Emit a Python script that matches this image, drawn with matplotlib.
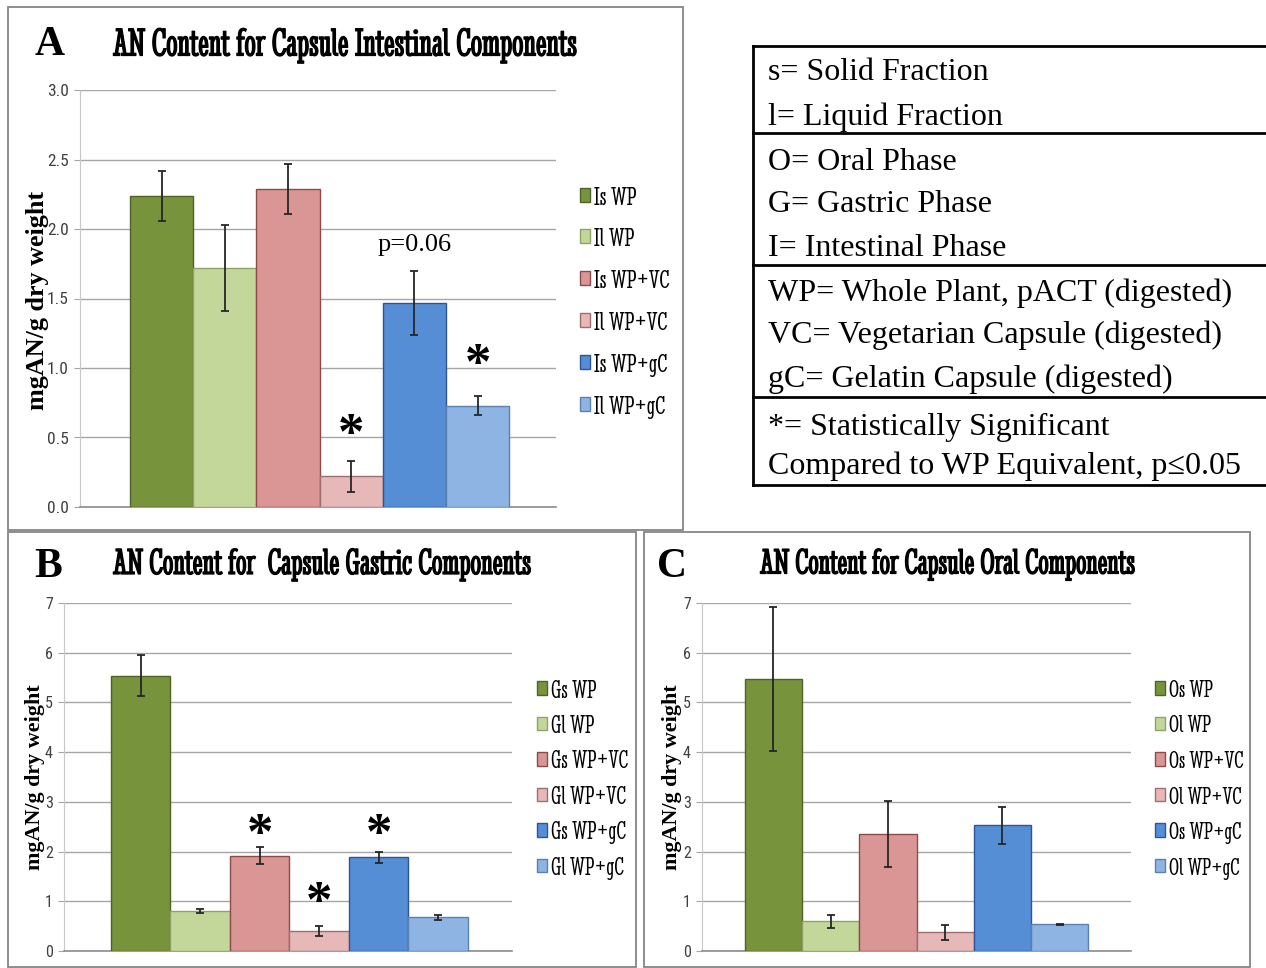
import matplotlib
matplotlib.use("Agg")
import matplotlib.pyplot as plt
import matplotlib.patheffects as pe
from matplotlib.lines import Line2D
from matplotlib.patches import Rectangle
import numpy as np

W, H = 1266, 968

# ---- data (mg AN / g dry weight) ----
labels_A = ["Is WP", "Il WP", "Is WP+VC", "Il WP+VC", "Is WP+gC", "Il WP+gC"]
vals_A = [2.24, 1.72, 2.29, 0.22, 1.47, 0.73]
err_A = [0.18, 0.31, 0.18, 0.11, 0.23, 0.07]

labels_B = ["Gs WP", "Gl WP", "Gs WP+VC", "Gl WP+VC", "Gs WP+gC", "Gl WP+gC"]
vals_B = [5.54, 0.80, 1.92, 0.40, 1.89, 0.68]
err_B = [0.42, 0.04, 0.18, 0.10, 0.11, 0.05]

labels_C = ["Os WP", "Ol WP", "Os WP+VC", "Ol WP+VC", "Os WP+gC", "Ol WP+gC"]
vals_C = [5.47, 0.60, 2.35, 0.38, 2.53, 0.54]
err_C = [1.45, 0.13, 0.66, 0.15, 0.37, 0.01]

# significance marks: (bar index, y of star centre)
stars_A = [(3, 0.61), (5, 1.115)]
stars_B = [(2, 2.58), (3, 1.23), (4, 2.58)]

key_lines = [
    ["s= Solid Fraction", "l= Liquid Fraction"],
    ["O= Oral Phase", "G= Gastric Phase", "I= Intestinal Phase"],
    ["WP= Whole Plant, pACT (digested)", "VC= Vegetarian Capsule (digested)",
     "gC= Gelatin Capsule (digested)"],
    ["*= Statistically Significant", "Compared to WP Equivalent, p\u22640.05"],
]

bar_colors = ["#77933C", "#C4D79B", "#D99694", "#E6B9B8", "#558ED5", "#8EB4E3"]
edge_colors = ["#4F6228", "#8FA268", "#8C4A48", "#9E6E6D", "#2F5597", "#5B80B2"]

SERIF = "Liberation Serif"
NARROW = "Stint Ultra Condensed"
TICKF = "Roboto Condensed"
BOLDFX = [pe.withStroke(linewidth=0.9, foreground="black")]

fig = plt.figure(figsize=(W / 100, H / 100), dpi=100)
rend = fig.canvas.get_renderer()


def rect(x0, y0, x1, y1):
    return [x0 / W, 1 - y1 / H, (x1 - x0) / W, (y1 - y0) / H]


def fx(x):
    return x / W


def fy(y):
    return 1 - y / H


def fit(t, target, vertical=False):
    bb = t.get_window_extent(renderer=rend)
    size = bb.height if vertical else bb.width
    t.set_fontsize(t.get_fontsize() * target / size)


def measure(s, family, fs):
    t = fig.text(0, 0, s, family=family, fontsize=fs)
    bb = t.get_window_extent(renderer=rend)
    t.remove()
    return bb.width, bb.height


def panel(box, vals, errs, labels, ymax, step, fmt, tick_fs, leg_x, leg_y0, pitch, sample_w):
    ax = fig.add_axes(rect(*box))
    x = np.arange(len(vals))
    bars = ax.bar(x, vals, width=1.0, color=bar_colors, edgecolor=edge_colors,
                  linewidth=1.0, zorder=3)
    ax.errorbar(x, vals, yerr=errs, fmt="none", ecolor="#262626", elinewidth=1.3,
                capsize=3, capthick=1.3, zorder=4)
    ax.set_xlim(-1.29, 6.24)
    ax.set_ylim(0, ymax)
    ax.set_yticks(np.arange(0, ymax + step / 2, step))
    ax.yaxis.set_major_formatter(plt.FormatStrFormatter(fmt))
    ax.set_xticks([])
    ax.yaxis.grid(True, color="#A6A6A6", lw=1.0)
    ax.set_axisbelow(True)
    for s in ("top", "right"):
        ax.spines[s].set_visible(False)
    ax.spines["left"].set_color("#C8C8C8")
    ax.spines["bottom"].set_color("#8C8C8C")
    ax.spines["bottom"].set_linewidth(1.2)
    ax.tick_params(axis="y", length=4, color="#A6A6A6", pad=4,
                   labelsize=tick_fs, labelcolor="#404040")
    for lb in ax.get_yticklabels():
        lb.set_family(TICKF)

    # legend: size the narrow serif so a sample label has the measured width
    w10, _ = measure(labels[2], NARROW, 10)
    fs = 10 * sample_w / w10
    _, h = measure(labels[2], NARROW, fs)
    fs_px = fs * 100 / 72
    ls = (pitch - h) / fs_px
    ax.legend(bars.patches, labels, loc="upper left",
              bbox_to_anchor=(fx(leg_x), fy(leg_y0 - h / 2)), bbox_transform=fig.transFigure,
              frameon=False, borderpad=0, borderaxespad=0, handlelength=10 / fs_px,
              handleheight=11 / fs_px, handletextpad=0.15, labelspacing=ls,
              prop={"family": NARROW, "size": fs})
    return ax


def star(ax, xi, y, fs=38):
    ax.annotate("*", (xi, y), xytext=(0, -0.26 * fs), textcoords="offset points",
                ha="center", va="center", fontsize=fs, fontweight="bold",
                family=SERIF, zorder=5)


# panel frames
for x0, y0, x1, y1 in [(8, 7, 683, 530), (8, 532, 636, 967), (644, 532, 1250, 967)]:
    fig.add_artist(Rectangle((fx(x0), fy(y1)), (x1 - x0) / W, (y1 - y0) / H,
                             transform=fig.transFigure, fill=False, ec="#858585", lw=1.3))

axA = panel((80, 90, 556, 507), vals_A, err_A, labels_A, 3.0, 0.5, "%.1f", 12.5,
            580, 198, 41.8, 75)
axB = panel((64, 603, 512, 951), vals_B, err_B, labels_B, 7, 1, "%d", 11.5,
            537, 691, 35.5, 76)
axC = panel((702, 603, 1131, 951), vals_C, err_C, labels_C, 7, 1, "%d", 11.5,
            1155, 691, 35.5, 74)
axC.set_xlim(-1.25, 6.25)

for xi, y in stars_A:
    star(axA, xi, y)
for xi, y in stars_B:
    star(axB, xi, y)
axA.text(4, 1.885, "p=0.06", ha="center", va="center", fontsize=19, family=SERIF)

# titles, panel letters, y labels
titles = [
    ("A", (50, 45), "AN Content for Capsule Intestinal Components", (113, 46), 465),
    ("B", (48, 567), "AN Content for  Capsule Gastric Components", (113, 565), 419),
    ("C", (672, 567), "AN Content for Capsule Oral Components", (760, 565), 376),
]
for letter, lxy, title, txy, tw in titles:
    fig.text(fx(lxy[0]), fy(lxy[1]), letter, ha="center", va="center",
             fontsize=30, fontweight="bold", family=SERIF)
    t = fig.text(fx(txy[0]), fy(txy[1]), title, ha="left", va="center",
                 fontsize=20, family=NARROW, path_effects=BOLDFX)
    fit(t, tw)

for xc, yc, ln in [(38, 300, 220), (35, 777, 187), (672, 777, 187)]:
    t = fig.text(fx(xc), fy(yc), "mgAN/g dry weight", rotation=90, ha="center",
                 va="center", fontsize=16, fontweight="bold", family=SERIF)
    fit(t, ln, vertical=True)

# key box
for y in [46, 133, 265, 397, 485]:
    fig.add_artist(Line2D([fx(753), fx(1266)], [fy(y), fy(y)], transform=fig.transFigure,
                          color="black", lw=2))
fig.add_artist(Line2D([fx(753), fx(753)], [fy(46), fy(485)], transform=fig.transFigure,
                      color="black", lw=2))
line_y = [[73, 117], [162, 204, 248], [293, 335, 379], [427, 466]]
for group, ys in zip(key_lines, line_y):
    for txt, y in zip(group, ys):
        fig.text(fx(768), fy(y), txt, ha="left", va="center", fontsize=23, family=SERIF)

fig.savefig("out.png", dpi=100)
